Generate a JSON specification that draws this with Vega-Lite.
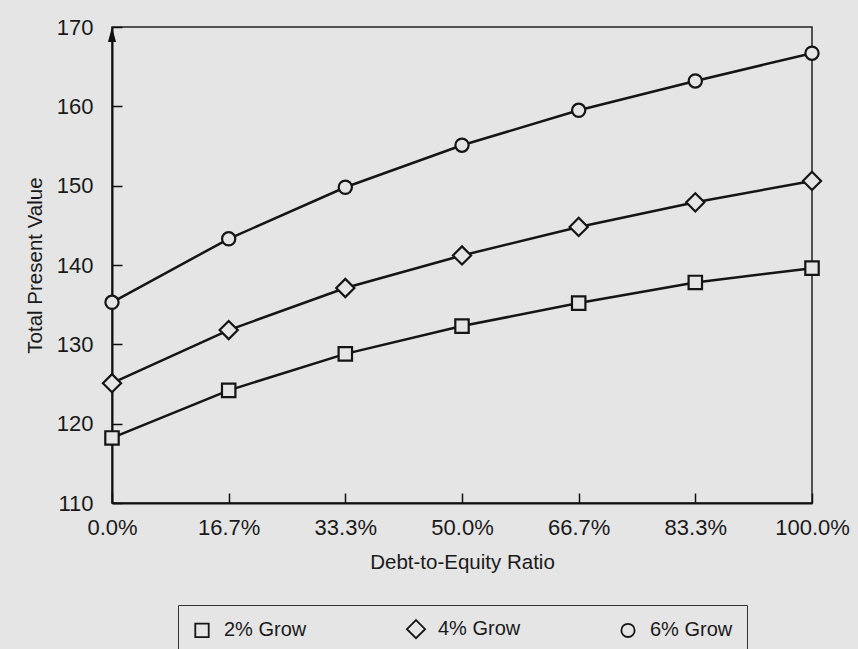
{
  "$schema": "https://vega.github.io/schema/vega-lite/v6.json",
  "width": 700,
  "height": 476,
  "autosize": {"type": "none"},
  "padding": {"left": 112, "top": 27, "right": 46, "bottom": 146},
  "background": "#e5e5e5",
  "config": {
    "font": "Liberation Sans",
    "view": {"stroke": "#222222", "strokeWidth": 1.5},
    "axis": {
      "grid": false,
      "domainColor": "#111111",
      "domainWidth": 2,
      "tickColor": "#111111",
      "tickWidth": 1.5,
      "tickSize": -10,
      "labelColor": "#1a1a1a",
      "labelFontSize": 22,
      "labelFlush": false,
      "labelOverlap": false,
      "titleColor": "#1a1a1a",
      "titleFontSize": 20.5,
      "titleFontWeight": "normal"
    }
  },
  "data": {
    "values": [
      {"ratio": 0.0, "value": 118.2, "series": "2% Grow"},
      {"ratio": 0.1667, "value": 124.2, "series": "2% Grow"},
      {"ratio": 0.3333, "value": 128.8, "series": "2% Grow"},
      {"ratio": 0.5, "value": 132.3, "series": "2% Grow"},
      {"ratio": 0.6667, "value": 135.2, "series": "2% Grow"},
      {"ratio": 0.8333, "value": 137.8, "series": "2% Grow"},
      {"ratio": 1.0, "value": 139.6, "series": "2% Grow"},
      {"ratio": 0.0, "value": 125.1, "series": "4% Grow"},
      {"ratio": 0.1667, "value": 131.8, "series": "4% Grow"},
      {"ratio": 0.3333, "value": 137.1, "series": "4% Grow"},
      {"ratio": 0.5, "value": 141.2, "series": "4% Grow"},
      {"ratio": 0.6667, "value": 144.8, "series": "4% Grow"},
      {"ratio": 0.8333, "value": 147.9, "series": "4% Grow"},
      {"ratio": 1.0, "value": 150.6, "series": "4% Grow"},
      {"ratio": 0.0, "value": 135.3, "series": "6% Grow"},
      {"ratio": 0.1667, "value": 143.3, "series": "6% Grow"},
      {"ratio": 0.3333, "value": 149.8, "series": "6% Grow"},
      {"ratio": 0.5, "value": 155.1, "series": "6% Grow"},
      {"ratio": 0.6667, "value": 159.5, "series": "6% Grow"},
      {"ratio": 0.8333, "value": 163.2, "series": "6% Grow"},
      {"ratio": 1.0, "value": 166.7, "series": "6% Grow"}
    ]
  },
  "encoding": {
    "x": {
      "field": "ratio",
      "type": "quantitative",
      "scale": {"domain": [0, 1], "nice": false, "zero": false},
      "axis": {
        "values": [0, 0.1667, 0.3333, 0.5, 0.6667, 0.8333, 1],
        "format": ".1%",
        "labelPadding": 24,
        "title": "Debt-to-Equity Ratio",
        "titlePadding": 14
      }
    },
    "y": {
      "field": "value",
      "type": "quantitative",
      "scale": {"domain": [110, 170], "nice": false, "zero": false},
      "axis": {
        "values": [110, 120, 130, 140, 150, 160, 170],
        "labelPadding": 29,
        "title": "Total Present Value",
        "titlePadding": 11
      }
    }
  },
  "layer": [
    {
      "mark": {"type": "line", "color": "#151515", "strokeWidth": 2.5},
      "encoding": {"detail": {"field": "series", "type": "nominal"}}
    },
    {
      "mark": {"type": "point", "filled": true, "fill": "#e5e5e5", "stroke": "#151515", "strokeWidth": 2.2, "opacity": 1},
      "encoding": {
        "shape": {
          "field": "series",
          "type": "nominal",
          "scale": {"domain": ["2% Grow", "4% Grow", "6% Grow"], "range": ["square", "diamond", "circle"]},
          "legend": {
            "orient": "none",
            "legendX": 66,
            "legendY": 578,
            "direction": "horizontal",
            "title": null,
            "strokeColor": "#333333",
            "padding": 14,
            "columnPadding": 96,
            "labelFontSize": 20,
            "labelColor": "#1a1a1a",
            "labelOffset": 12,
            "symbolStrokeColor": "#1a1a1a",
            "symbolFillColor": "#e5e5e5",
            "symbolStrokeWidth": 1.8
          }
        },
        "size": {
          "field": "series",
          "type": "nominal",
          "scale": {"type": "ordinal", "domain": ["2% Grow", "4% Grow", "6% Grow"], "range": [180, 330, 175]}
        }
      }
    },
    {
      "data": {"values": [{"ratio": 0, "value": 170}]},
      "mark": {"type": "point", "shape": "M0,0L0.35,1.3L-0.35,1.3Z", "filled": true, "color": "#111111", "size": 529, "opacity": 1},
      "encoding": {}
    }
  ]
}
